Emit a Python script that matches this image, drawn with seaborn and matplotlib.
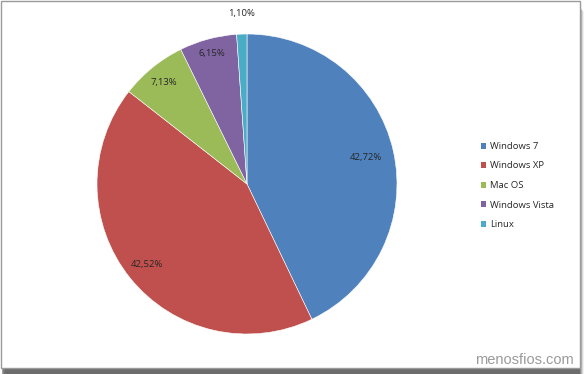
import matplotlib
matplotlib.use("Agg")
import matplotlib.pyplot as plt
import seaborn as sns
import numpy as np
from matplotlib.patches import Rectangle, Patch

categories = ["Windows 7", "Windows XP", "Mac OS", "Windows Vista", "Linux"]
values = [42.72, 42.52, 7.13, 6.15, 1.10]
pct_labels = ["42,72%", "42,52%", "7,13%", "6,15%", "1,10%"]
colors = ["#4F81BD", "#C0504D", "#9BBB59", "#8064A2", "#4BACC6"]
label_dist = [0.81, 0.86, 0.875, 0.90, 1.14]

sns.set_theme(style="white")
plt.rcParams['font.family'] = ['Open Sans', 'DejaVu Sans']

fig = plt.figure(figsize=(5.85, 3.74), dpi=100)
W, H = 585, 374

# frame shadow
for i, a in enumerate([0.55, 0.4, 0.28, 0.16, 0.08]):
    fig.patches.append(Rectangle(((2 + i) / W, 0), 578 / W, (368 - i - 1) / H,
                                 transform=fig.transFigure, facecolor="#555555",
                                 alpha=a, edgecolor="none", zorder=0))
fig.patches.append(Rectangle((0.5 / W, (374 - 368) / H), 579 / W, 367.5 / H,
                             transform=fig.transFigure, facecolor="white",
                             edgecolor="#9a9a9a", linewidth=1.0, zorder=1))

cx, cy, r = 247, 184, 150
ax = fig.add_axes([(cx - r) / W, (H - cy - r) / H, 2 * r / W, 2 * r / H])
ax.set_zorder(2)
wedges, _ = ax.pie(values, colors=colors, startangle=90, counterclock=False,
                   wedgeprops=dict(edgecolor="white", linewidth=0.4))
ax.set_xlim(-1, 1)
ax.set_ylim(-1, 1)
ax.set_aspect("equal")
ax.axis("off")

for w, lab, d in zip(wedges, pct_labels, label_dist):
    ang = np.deg2rad((w.theta1 + w.theta2) / 2)
    ax.text(d * np.cos(ang), d * np.sin(ang), lab, ha="center", va="center",
            fontsize=6.8, color="#262626", clip_on=False)

handles = [Patch(facecolor=c, edgecolor="none") for c in colors]
leg = fig.legend(handles, categories, loc="center left",
                 bbox_to_anchor=(476 / W, (H - 185.5) / H), frameon=False,
                 fontsize=6.8, handlelength=0.6, handleheight=0.6,
                 handletextpad=0.4, labelspacing=1.12, borderpad=0)
for t in leg.get_texts():
    t.set_color("#262626")

fig.text(574 / W, (H - 360) / H, "menosfios.com", ha="right", va="center",
         fontsize=10.5, color="#9a9a9a", family=["Liberation Sans", "DejaVu Sans"])

fig.savefig("out.png", dpi=100)
